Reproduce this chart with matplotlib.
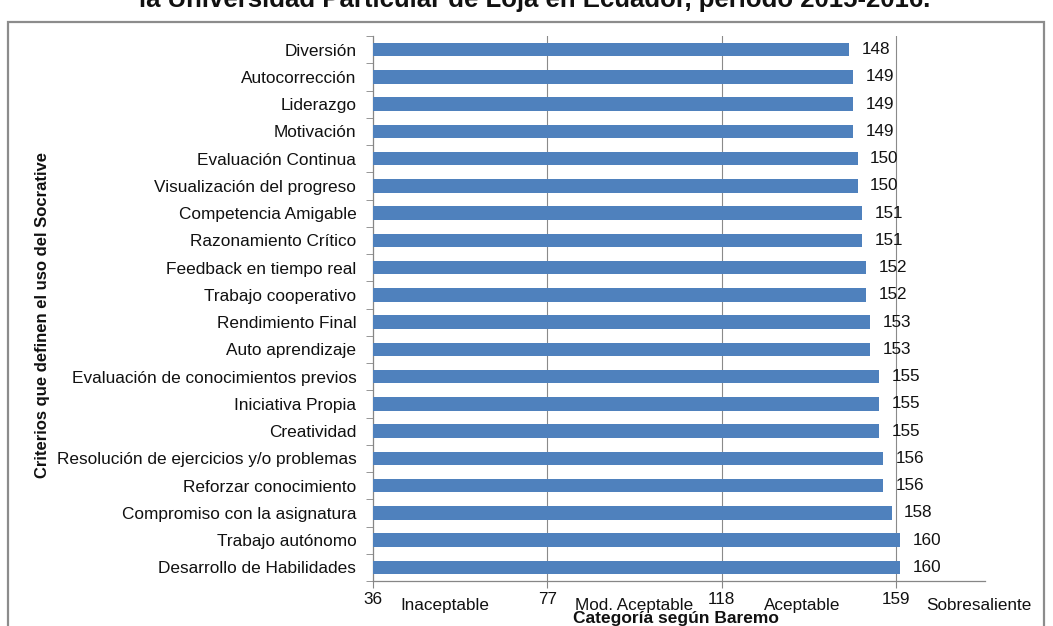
import matplotlib
matplotlib.use("Agg")
import matplotlib.pyplot as plt
from matplotlib.patches import Rectangle
from matplotlib.transforms import blended_transform_factory

plt.rcParams['font.family'] = ['Liberation Sans', 'DejaVu Sans']

categories = [
    "Diversión", "Autocorrección", "Liderazgo", "Motivación",
    "Evaluación Continua", "Visualización del progreso", "Competencia Amigable",
    "Razonamiento Crítico", "Feedback en tiempo real", "Trabajo cooperativo",
    "Rendimiento Final", "Auto aprendizaje", "Evaluación de conocimientos previos",
    "Iniciativa Propia", "Creatividad", "Resolución de ejercicios y/o problemas",
    "Reforzar conocimiento", "Compromiso con la asignatura", "Trabajo autónomo",
    "Desarrollo de Habilidades",
]
values = [148, 149, 149, 149, 150, 150, 151, 151, 152, 152,
          153, 153, 155, 155, 155, 156, 156, 158, 160, 160]
x_ticks = [36, 77, 118, 159]
x_max = 180
band_labels = ["Inaceptable", "Mod. Aceptable", "Aceptable", "Sobresaliente"]
band_pos = [53, 97.5, 137, 178.5]

W, H = 1053, 626
fig = plt.figure(figsize=(W / 100, H / 100), dpi=100)
fig.patch.set_facecolor('white')

# outer frame
fig.add_artist(Rectangle((8 / W, -0.05), (1044 - 8) / W, 1.05 + (1 - 22 / H) - 1,
                         transform=fig.transFigure, fill=False,
                         edgecolor='#8c8c8c', linewidth=1.6))

ax = fig.add_axes([373 / W, 1 - 581 / H, (985 - 373) / W, (581 - 36) / H])

n = len(categories)
ypos = list(range(n))
ax.barh(ypos, [v - x_ticks[0] for v in values], left=x_ticks[0],
        height=0.5, color='#4F81BD', zorder=3)
ax.set_ylim(n - 0.5, -0.5)
ax.set_xlim(x_ticks[0], x_max)

for y, v in zip(ypos, values):
    ax.annotate(str(v), (v, y), xytext=(9, 0), textcoords='offset points',
                ha='left', va='center', fontsize=12.3, color='#111111', zorder=4)

ax.set_yticks(ypos)
ax.set_yticklabels(categories, fontsize=12.4, color='#111111')
ax.tick_params(axis='y', which='major', length=0, pad=12)
ax.set_yticks([i - 0.5 for i in range(n + 1)], minor=True)
ax.tick_params(axis='y', which='minor', length=5, color='#868686', direction='out')

ax.set_xticks(x_ticks)
ax.set_xticklabels([str(t) for t in x_ticks], fontsize=12.3, color='#111111')
ax.tick_params(axis='x', length=5, color='#868686', direction='out', pad=3)

for t in x_ticks[1:]:
    ax.axvline(t, color='#8a8a8a', linewidth=0.8, zorder=1)

for s in ['top', 'right']:
    ax.spines[s].set_visible(False)
for s in ['left', 'bottom']:
    ax.spines[s].set_color('#868686')
    ax.spines[s].set_linewidth(0.9)

trans = blended_transform_factory(ax.transData, ax.transAxes)
for lab, xp in zip(band_labels, band_pos):
    ax.text(xp, -0.045, lab, transform=trans, ha='center', va='center',
            fontsize=12.3, color='#111111')

fig.text(43 / W, 1 - 315 / H, "Criterios que definen el uso del Socrative",
         rotation=90, ha='center', va='center', fontsize=12, fontweight='bold',
         color='#111111')
fig.text(676 / W, 1 - 611 / H, "Categoría según Baremo", ha='center', va='top',
         fontsize=12.5, fontweight='bold', color='#111111')
fig.text(535 / W, 1 - 7 / H,
         "la Universidad Particular de Loja en Ecuador, periodo 2015-2016.",
         ha='center', va='baseline', fontsize=18.5, fontweight='bold',
         color='#111111')

fig.savefig("out.png", dpi=100)
